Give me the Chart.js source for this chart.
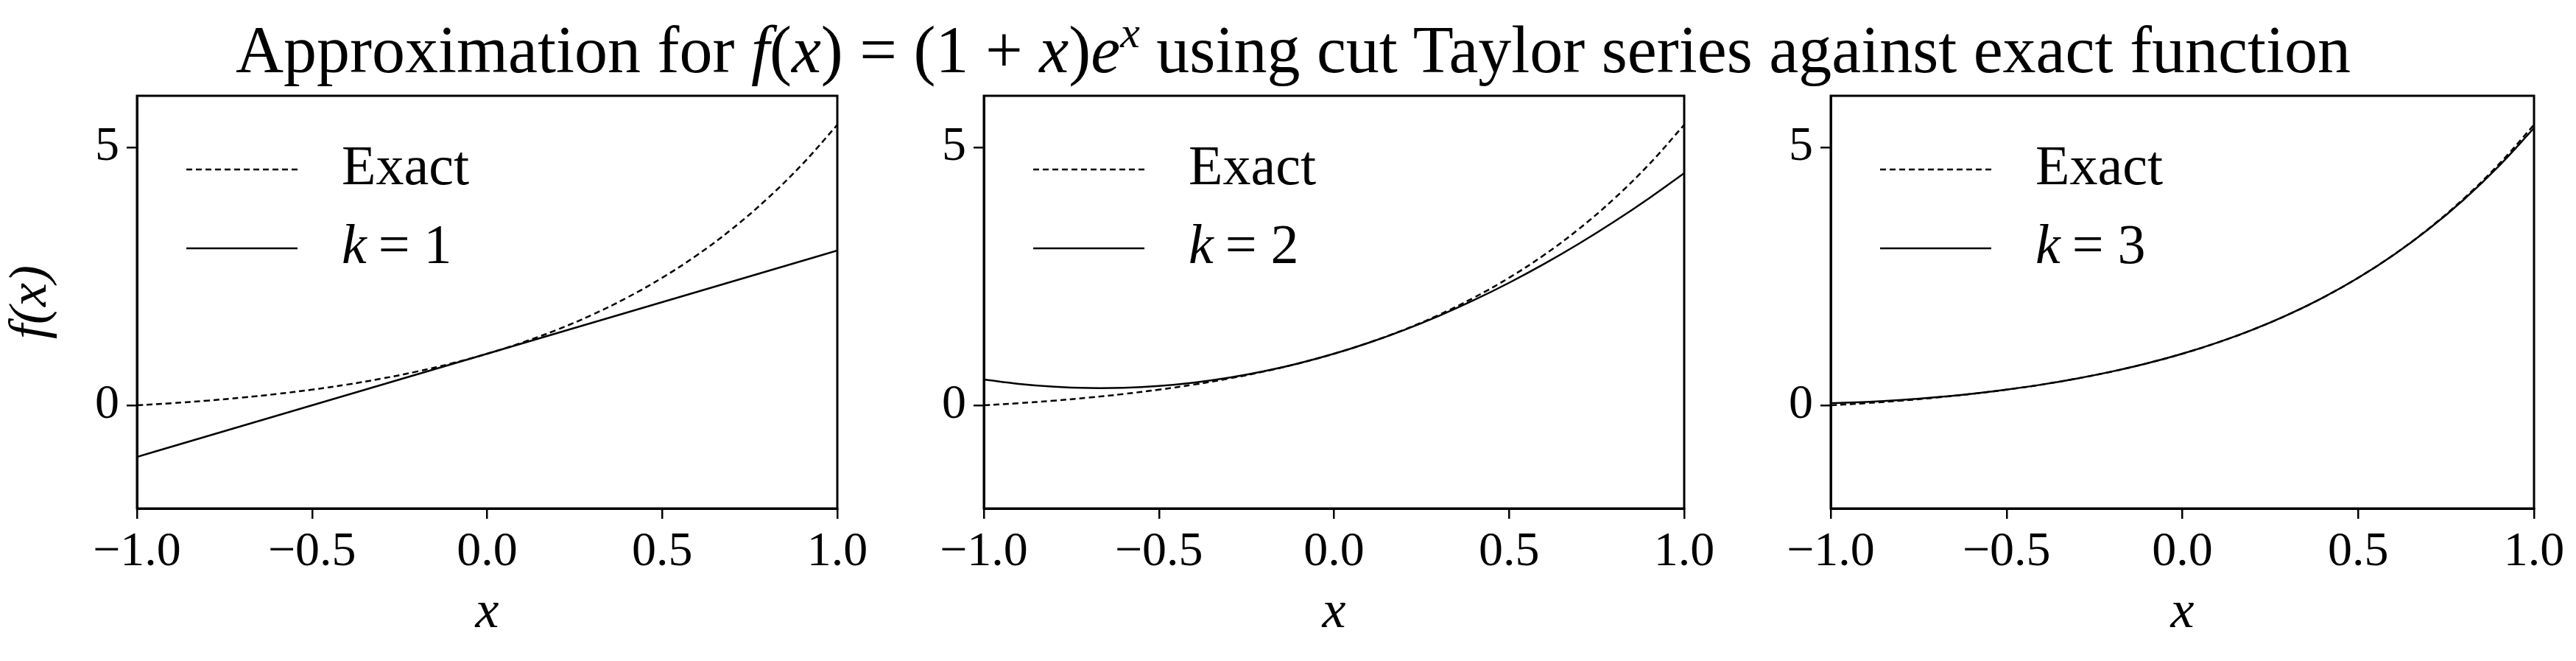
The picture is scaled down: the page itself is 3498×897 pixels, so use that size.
<!DOCTYPE html>
<html><head><meta charset="utf-8">
<script src="https://cdn.jsdelivr.net/npm/chart.js@4"></script>
<style>
body{margin:0;width:3498px;height:897px;background:#fff;overflow:hidden;position:relative;font-family:"Liberation Serif",serif}
#title{position:absolute;left:0;width:3512px;top:10px;text-align:center;font-size:90px;color:#000;white-space:nowrap}
.c{position:absolute;top:0}
i{font-style:italic}
</style></head><body>
<div id="title">Approximation for <i>f</i>(<i>x</i>) = (1 + <i>x</i>)<i>e</i><sup style="font-size:60px;font-style:italic;vertical-align:34px">x</sup> using cut Taylor series against exact function</div>
<div class="c" style="left:0"><canvas id="p1" width="1197" height="897"></canvas></div>
<div class="c" style="left:1197px"><canvas id="p2" width="1150" height="897"></canvas></div>
<div class="c" style="left:2347px"><canvas id="p3" width="1151" height="897"></canvas></div>
<script>
// x sample points
const xs = [-1.0,-0.9,-0.8,-0.7,-0.6,-0.5,-0.4,-0.3,-0.2,-0.1,0.0,0.1,0.2,0.3,0.4,0.5,0.6,0.7,0.8,0.9,1.0];
// exact curve
const exact = [0,0.041,0.090,0.149,0.220,0.303,0.402,0.519,0.655,0.814,1,1.216,1.466,1.755,2.089,2.473,2.915,3.423,4.006,4.673,5.437];
// truncated series
const k1 = [-1,-0.8,-0.6,-0.4,-0.2,0,0.2,0.4,0.6,0.8,1,1.2,1.4,1.6,1.8,2,2.2,2.4,2.6,2.8,3];
const k2 = [0.5,0.415,0.36,0.335,0.34,0.375,0.44,0.535,0.66,0.815,1,1.215,1.46,1.735,2.04,2.375,2.74,3.135,3.56,4.015,4.5];
const k3 = [0.042,0.066,0.104,0.156,0.223,0.305,0.402,0.519,0.655,0.814,1,1.216,1.465,1.755,2.088,2.471,2.911,3.414,3.986,4.638,5.375];
const xTicks = [-1.0,-0.5,0.0,0.5,1.0];
const yTicks = [0,5];

const FONT = '"Liberation Serif", serif';

const legendPlugin = {
  id: 'legendIn',
  afterDraw(chart, args, opts) {
    const ctx = chart.ctx, a = chart.chartArea;
    ctx.save();
    ctx.strokeStyle = '#000'; ctx.lineWidth = 2.5;
    const rows = [{dash:[8,5], y:a.top + 100}, {dash:[], y:a.top + 207}];
    rows.forEach(r => {
      ctx.setLineDash(r.dash);
      ctx.beginPath(); ctx.moveTo(a.left + 67, r.y); ctx.lineTo(a.left + 218, r.y); ctx.stroke();
    });
    ctx.setLineDash([]);
    ctx.fillStyle = '#000'; ctx.textBaseline = 'middle';
    ctx.font = '76px ' + FONT;
    ctx.fillText('Exact', a.left + 278, rows[0].y);
    let x = a.left + 278;
    ctx.font = 'italic 76px ' + FONT;
    ctx.fillText('k', x, rows[1].y); x += ctx.measureText('k').width + 16;
    ctx.font = '76px ' + FONT;
    ctx.fillText('= ' + opts.k, x, rows[1].y);
    ctx.restore();
  }
};

function fmt(v) {
  return (v < 0 ? '\u2212' : '') + Math.abs(v).toFixed(1);
}

function makePanel(id, series, k, yW, rightPad, showYTitle) {
  new Chart(document.getElementById(id), {
    type: 'line',
    data: {
      datasets: [
        { data: xs.map((x, i) => ({x, y: exact[i]})), borderColor: '#000', borderWidth: 2.5, borderDash: [8,5], pointRadius: 0, tension: 0.4, fill: false },
        { data: xs.map((x, i) => ({x, y: series[i]})), borderColor: '#000', borderWidth: 2.5, pointRadius: 0, tension: 0.4, fill: false }
      ]
    },
    options: {
      responsive: false, animation: false,
      layout: { padding: { top: 130, right: rightPad, left: 0, bottom: 0 } },
      plugins: { legend: { display: false }, tooltip: { enabled: false }, legendIn: { k } },
      scales: {
        x: {
          type: 'linear', min: -1, max: 1,
          afterBuildTicks: s => { s.ticks = xTicks.map(v => ({value: v})); },
          afterFit: s => { s.height = 207; },
          ticks: { color: '#000', font: { family: FONT, size: 66 }, callback: v => fmt(v), maxRotation: 0, padding: 6 },
          grid: { drawOnChartArea: false, color: '#000', lineWidth: 2.5, tickLength: 14 },
          border: { color: '#000', width: 3 },
          title: { display: true, text: 'x', color: '#000', font: { family: FONT, size: 72, style: 'italic' }, padding: { top: 0, bottom: 22 } }
        },
        y: {
          type: 'linear', min: -2, max: 6,
          afterBuildTicks: s => { s.ticks = yTicks.map(v => ({value: v})); },
          afterFit: s => { s.width = yW; },
          ticks: { color: '#000', font: { family: FONT, size: 66 }, padding: 10 },
          grid: { drawOnChartArea: false, color: '#000', lineWidth: 2.5, tickLength: 14 },
          border: { color: '#000', width: 3 },
          title: { display: showYTitle, text: 'f(x)', color: '#000', font: { family: FONT, size: 72, style: 'italic' }, padding: { top: 0, bottom: 0, left: 30 } }
        }
      }
    },
    plugins: [legendPlugin, {
      id: 'frame',
      afterDraw(chart) {
        const c = chart.ctx, a = chart.chartArea;
        c.save(); c.strokeStyle = '#000'; c.lineWidth = 3;
        c.strokeRect(a.left, a.top, a.right - a.left, a.bottom - a.top);
        c.restore();
      }
    }]
  });
}

makePanel('p1', k1, 1, 186, 60, true);
makePanel('p2', k2, 2, 139, 60, false);
makePanel('p3', k3, 3, 139, 57, false);
</script>
</body></html>
